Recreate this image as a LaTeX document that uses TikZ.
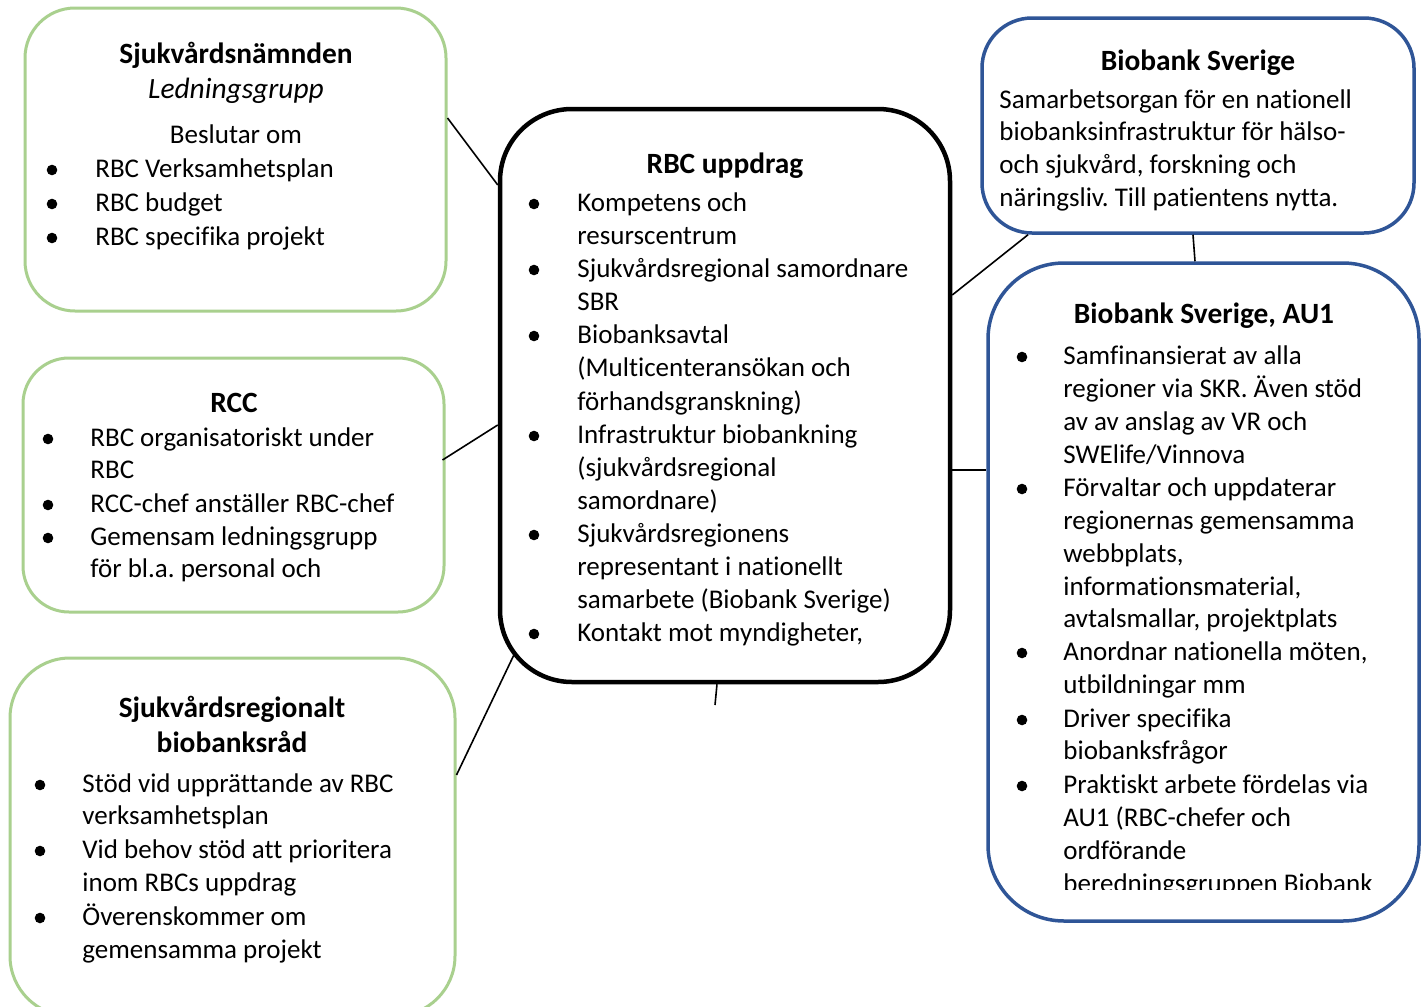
\documentclass[tikz,border=0pt]{standalone}
\usepackage{fontspec}
\setmainfont{Carlito}[Ligatures={NoCommon}]
\frenchspacing
\usetikzlibrary{fit,calc}
\definecolor{boxgreen}{RGB}{169,208,142}
\definecolor{boxblue}{RGB}{47,85,151}
\tikzset{
  body/.style={anchor=base west, inner sep=0pt, font=\fontsize{13.5}{16.5}\selectfont},
  ctr/.style={anchor=base, inner sep=0pt, font=\fontsize{13.5}{16.5}\selectfont},
  ttl/.style={anchor=base, inner sep=0pt, font=\fontsize{14.7}{18}\selectfont\bfseries},
  dot/.style={circle, fill=black, inner sep=0pt, minimum size=5.3pt},
  gbox/.style={draw=boxgreen, line width=1.5pt, inner sep=0pt, fill=white},
  bbox/.style={draw=boxblue, line width=1.75pt, inner sep=0pt, fill=white},
  kbox/.style={draw=black, line width=2.25pt, inner sep=0pt, fill=white},
  link/.style={draw=black, line width=0.8pt},
}
\begin{document}
\begin{tikzpicture}[x=0.5pt,y=-0.5pt]
\useasboundingbox (0,0) rectangle (1425,1007);
\fill[white] (0,0) rectangle (1425,1007);

% boxes
\node[gbox, rounded corners=25pt, fit={(25,8) (446,311)}] (sn) {};
\node[gbox, rounded corners=23pt, fit={(23,358) (444,612)}] (rcc) {};
\node[gbox, rounded corners=30pt, fit={(10,658) (455,1016)}] (sbr) {};
\node[kbox, rounded corners=36pt, fit={(500,109) (950,682)}] (rbc) {};
\node[bbox, rounded corners=25pt, fit={(982,18) (1414,233)}] (bs) {};
\node[bbox, rounded corners=38pt, fit={(988,263) (1419,921)}] (au) {};

% connectors
\draw[link] (sn.east |- 0,118) -- (rbc.west |- 0,185);
\draw[link] ($(rcc.east |- 0,460)+(-3,0)$) -- (rbc.west |- 0,425);
\draw[link] (sbr.east |- 0,775) -- ($(rbc.south west)+(16,-29)$);
\coordinate (stub) at (715,705);
\draw[link] ($(rbc.south)+(-8,0)$) -- (stub);
\draw[link] (rbc.east |- 0,295) -- (bs.south -| 1028,0);
\draw[link] (rbc.east |- 0,470) -- (au.west |- 0,470);
\draw[link] (bs.south -| 1193,0) -- (au.north -| 1195,0);

% Sjukvårdsnämnden
\node[ttl] (snt) at (236,63) {Sjukvårdsnämnden};
\node[ctr, font=\fontsize{14.7}{18}\selectfont\itshape] (snlg) at (236,98) {Ledningsgrupp};
\node[ctr] (snbo) at (236,143) {Beslutar om};
\foreach \y/\t [count=\i] in {177/{RBC Verksamhetsplan}, 211/{RBC budget}, 245/{RBC specifika projekt}} {
  \node[body] (snl\i) at (95,\y) {\t};
  \node[dot] (snb\i) at (52,\y-7) {};
}

% RCC
\node[ttl] (rcct) at (234,412) {RCC};
\foreach \y/\t [count=\i] in {446/{RBC organisatoriskt under}, 478/{RBC}, 512/{RCC-chef anställer RBC-chef}, 545/{Gemensam ledningsgrupp}, 577/{för bl.a. personal och}}
  \node[body] (rccl\i) at (90,\y) {\t};
\foreach \y [count=\i] in {446,512,545}
  \node[dot] (rccb\i) at (48,\y-7) {};

% Sjukvårdsregionalt biobanksråd
\node[ttl] (sbrt1) at (232,717) {Sjukvårdsregionalt};
\node[ttl] (sbrt2) at (232,752) {biobanksråd};
\foreach \y/\t [count=\i] in {792/{Stöd vid upprättande av RBC}, 824/{verksamhetsplan}, 858/{Vid behov stöd att prioritera}, 891/{inom RBCs uppdrag}, 925/{Överenskommer om}, 958/{gemensamma projekt}}
  \node[body] (sbrl\i) at (82,\y) {\t};
\foreach \y [count=\i] in {792,858,925}
  \node[dot] (sbrb\i) at (40,\y-7) {};

% RBC uppdrag
\node[ttl] (rbct) at (725,173) {RBC uppdrag};
\foreach \y/\t [count=\i] in {211/{Kompetens och}, 244/{resurscentrum}, 277/{Sjukvårdsregional samordnare}, 310/{SBR}, 343/{Biobanksavtal}, 376/{(Multicenteransökan och}, 410/{förhandsgranskning)}, 443/{Infrastruktur biobankning}, 476/{(sjukvårdsregional}, 509/{samordnare)}, 542/{Sjukvårdsregionens}, 575/{representant i nationellt}, 608/{samarbete (Biobank Sverige)}, 641/{Kontakt mot myndigheter,}}
  \node[body] (rbcl\i) at (577,\y) {\t};
\foreach \y [count=\i] in {211,277,343,443,542,641}
  \node[dot] (rbcb\i) at (534,\y-7) {};

% Biobank Sverige
\node[ttl] (bst) at (1198,70) {Biobank Sverige};
\foreach \y/\t [count=\i] in {108/{Samarbetsorgan för en nationell}, 140/{biobanksinfrastruktur för hälso-}, 173/{och sjukvård, forskning och}, 206/{näringsliv. Till patientens nytta.}}
  \node[body] (bsl\i) at (999,\y) {\t};

% Biobank Sverige, AU1
\node[ttl] (aut) at (1204,323) {Biobank Sverige, AU1};
\begin{scope}
\clip (990,265) rectangle (1417,889);
\foreach \y/\t [count=\i] in {364/{Samfinansierat av alla}, 397/{regioner via SKR. Även stöd}, 430/{av av anslag av VR och}, 463/{SWElife/Vinnova}, 496/{Förvaltar och uppdaterar}, 529/{regionernas gemensamma}, 562/{webbplats,}, 595/{informationsmaterial,}, 627/{avtalsmallar, projektplats}, 660/{Anordnar nationella möten,}, 693/{utbildningar mm}, 727/{Driver specifika}, 759/{biobanksfrågor}, 793/{Praktiskt arbete fördelas via}, 826/{AU1 (RBC-chefer och}, 859/{ordförande}, 892/{beredningsgruppen Biobank}}
  \node[body] (aul\i) at (1063,\y) {\t};
\end{scope}
\foreach \y [count=\i] in {364,496,660,727,793}
  \node[dot] (aub\i) at (1022,\y-7) {};
\end{tikzpicture}
\end{document}
